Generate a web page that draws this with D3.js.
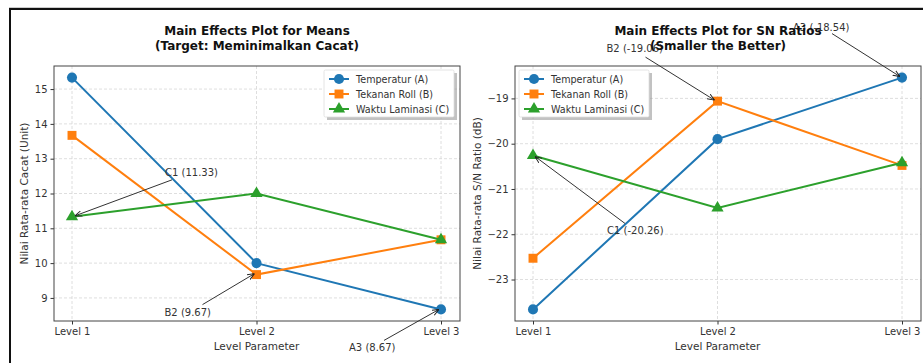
<!DOCTYPE html>
<html>
<head>
<meta charset="utf-8">
<script src="https://cdn.jsdelivr.net/npm/d3@7"></script>
<style>
    body { margin: 0; background: #fff; font-family: "DejaVu Sans", sans-serif; }
    svg text { font-family: "DejaVu Sans", sans-serif; fill: #333; }
</style>
</head>
<body>
<div id="chart"></div>
<script>
// Data
const levels = ["Level 1", "Level 2", "Level 3"];
const seriesNames = ["Temperatur (A)", "Tekanan Roll (B)", "Waktu Laminasi (C)"];
const meansA = [15.33, 10.00, 8.67];
const meansB = [13.67, 9.67, 10.67];
const meansC = [11.33, 12.00, 10.67];
const snA = [-23.66, -19.90, -18.54];
const snB = [-22.53, -19.06, -20.48];
const snC = [-20.26, -21.42, -20.42];
const meansTicks = [9, 10, 11, 12, 13, 14, 15];
const snTicks = [-23, -22, -21, -20, -19];
// annotations: series index, level index, label
const meansNotes = [
    { s: 2, i: 0, label: "C1 (11.33)" },
    { s: 1, i: 1, label: "B2 (9.67)" },
    { s: 0, i: 2, label: "A3 (8.67)" }
];
const snNotes = [
    { s: 1, i: 1, label: "B2 (-19.06)" },
    { s: 0, i: 2, label: "A3 (-18.54)" },
    { s: 2, i: 0, label: "C1 (-20.26)" }
];

const colors = ["#1f77b4", "#ff7f0e", "#2ca02c"];
const markers = [d3.symbolCircle, d3.symbolSquare, d3.symbolTriangle];
const markerSizes = [80, 80, 65];

const W = 923, H = 363;
const svg = d3.select("#chart").append("svg")
    .attr("width", W)
    .attr("height", H);

svg.append("defs").append("marker")
    .attr("id", "arrow")
    .attr("viewBox", "0 0 10 10")
    .attr("refX", 10).attr("refY", 5)
    .attr("markerWidth", 7).attr("markerHeight", 7)
    .attr("orient", "auto")
    .append("path")
    .attr("d", "M0,1 L10,5 L0,9")
    .attr("fill", "none")
    .attr("stroke", "#222")
    .attr("stroke-width", 1.4);

// outer frame (cropped screenshot border)
svg.append("line").attr("x1", 9).attr("x2", W).attr("y1", 7.5).attr("y2", 7.5)
    .attr("stroke", "#ccc").attr("stroke-width", 1);
svg.append("path").attr("d", `M10,${H} V9 H${W}`)
    .attr("fill", "none").attr("stroke", "#111").attr("stroke-width", 2);

function drawPanel(opt) {
    const { left, right, top, bottom, series, ticks, notes, title, ylabel, ylabelX, legendX } = opt;
    const g = svg.append("g");

    const x = d3.scalePoint().domain(levels).range([left + 18, right - 19]);
    const all = series.flat();
    const lo = d3.min(all), hi = d3.max(all);
    const pad = (hi - lo) * 0.05;
    const y = d3.scaleLinear().domain([lo - pad, hi + pad]).range([bottom, top]);

    // grid
    g.append("g").selectAll("line").data(levels).join("line")
        .attr("x1", d => x(d)).attr("x2", d => x(d))
        .attr("y1", top).attr("y2", bottom)
        .attr("stroke", "#d5d5d5").attr("stroke-dasharray", "3,2").attr("stroke-width", 0.8);
    g.append("g").selectAll("line").data(ticks).join("line")
        .attr("x1", left).attr("x2", right)
        .attr("y1", d => y(d)).attr("y2", d => y(d))
        .attr("stroke", "#d5d5d5").attr("stroke-dasharray", "3,2").attr("stroke-width", 0.8);

    // axes
    const xAxis = g.append("g").attr("transform", `translate(0,${bottom})`)
        .call(d3.axisBottom(x).tickSize(3.5).tickPadding(3));
    const yAxis = g.append("g").attr("transform", `translate(${left},0)`)
        .call(d3.axisLeft(y).tickValues(ticks).tickSize(3.5).tickPadding(3)
            .tickFormat(d => d < 0 ? "\u2212" + Math.abs(d) : d));
    [xAxis, yAxis].forEach(a => {
        a.select(".domain").remove();
        a.selectAll("line").attr("stroke", "#333");
        a.selectAll("text").attr("font-size", 10).attr("fill", "#333")
            .style("font-family", "DejaVu Sans, sans-serif");
    });

    g.append("rect")
        .attr("x", left).attr("y", top)
        .attr("width", right - left).attr("height", bottom - top)
        .attr("fill", "none").attr("stroke", "#444").attr("stroke-width", 1);

    // lines + markers
    const line = d3.line().x((d, i) => x(levels[i])).y(d => y(d));
    series.forEach((vals, s) => {
        g.append("path").datum(vals)
            .attr("d", line)
            .attr("fill", "none")
            .attr("stroke", colors[s])
            .attr("stroke-width", 2);
        g.append("g").selectAll("path").data(vals).join("path")
            .attr("transform", (d, i) => `translate(${x(levels[i])},${y(d)})`)
            .attr("d", d3.symbol().type(markers[s]).size(markerSizes[s]))
            .attr("fill", colors[s]);
    });

    // annotations
    notes.forEach(n => {
        const px = x(levels[n.i]), py = y(series[n.s][n.i]);
        g.append("line")
            .attr("x1", px + n.ax).attr("y1", py + n.ay)
            .attr("x2", px + n.ex).attr("y2", py + n.ey)
            .attr("stroke", "#333").attr("stroke-width", 1)
            .attr("marker-end", "url(#arrow)");
        g.append("text")
            .attr("x", px + n.tx).attr("y", py + n.ty)
            .attr("font-size", 10)
            .text(n.label);
    });

    // title
    const cx = (left + right) / 2;
    const t = g.append("text").attr("x", cx).attr("y", 35)
        .attr("text-anchor", "middle").attr("font-size", 12).attr("font-weight", "bold")
        .style("fill", "#111");
    t.append("tspan").attr("x", cx).attr("dy", 0).text(title[0]);
    t.append("tspan").attr("x", cx).attr("dy", 15).text(title[1]);

    g.append("text").attr("x", x(levels[1])).attr("y", 350)
        .attr("text-anchor", "middle").attr("font-size", 10.5)
        .text("Level Parameter");
    g.append("text")
        .attr("transform", `translate(${ylabelX},${(top + bottom) / 2}) rotate(-90)`)
        .attr("text-anchor", "middle").attr("font-size", 10.5)
        .text(ylabel);

    // legend
    const lg = g.append("g").attr("transform", `translate(${legendX},70)`);
    lg.append("rect").attr("x", 3).attr("y", 3).attr("width", 130).attr("height", 47)
        .attr("fill", "#999").attr("opacity", 0.6);
    lg.append("rect").attr("width", 130).attr("height", 47).attr("rx", 1.5)
        .attr("fill", "#fff").attr("stroke", "#ddd").attr("stroke-width", 0.8);
    seriesNames.forEach((name, s) => {
        const ly = 9 + s * 15;
        lg.append("line").attr("x1", 5).attr("x2", 25).attr("y1", ly).attr("y2", ly)
            .attr("stroke", colors[s]).attr("stroke-width", 2);
        lg.append("path").attr("transform", `translate(15,${ly})`)
            .attr("d", d3.symbol().type(markers[s]).size(markerSizes[s]))
            .attr("fill", colors[s]);
        lg.append("text").attr("x", 32).attr("y", ly + 3.5)
            .attr("font-size", 9.6).text(name);
    });
}

// offsets of annotation text and arrows relative to the target point
const meansOffsets = [
    { tx: 93, ty: -41, ax: 100, ay: -37, ex: 3, ey: -1 },
    { tx: -92, ty: 41, ax: -54, ay: 30, ex: -2, ey: -1 },
    { tx: -92, ty: 42, ax: -57, ay: 31, ex: -2, ey: 0 }
];
const snOffsets = [
    { tx: -111, ty: -49, ax: -72, ay: -44, ex: -3, ey: -1 },
    { tx: -109, ty: -47, ax: -70, ay: -44, ex: -2, ey: -1 },
    { tx: 74, ty: 79, ax: 92, ay: 68, ex: 2, ey: 1 }
];

drawPanel({
    left: 54, right: 460, top: 66, bottom: 321,
    series: [meansA, meansB, meansC],
    ticks: meansTicks,
    notes: meansNotes.map((n, k) => Object.assign({}, n, meansOffsets[k])),
    title: ["Main Effects Plot for Means", "(Target: Meminimalkan Cacat)"],
    ylabel: "Nilai Rata-rata Cacat (Unit)",
    ylabelX: 28,
    legendX: 324
});

drawPanel({
    left: 515, right: 921, top: 66, bottom: 321,
    series: [snA, snB, snC],
    ticks: snTicks,
    notes: snNotes.map((n, k) => Object.assign({}, n, snOffsets[k])),
    title: ["Main Effects Plot for SN Ratios", "(Smaller the Better)"],
    ylabel: "Nilai Rata-rata S/N Ratio (dB)",
    ylabelX: 481,
    legendX: 519
});
</script>
</body>
</html>
